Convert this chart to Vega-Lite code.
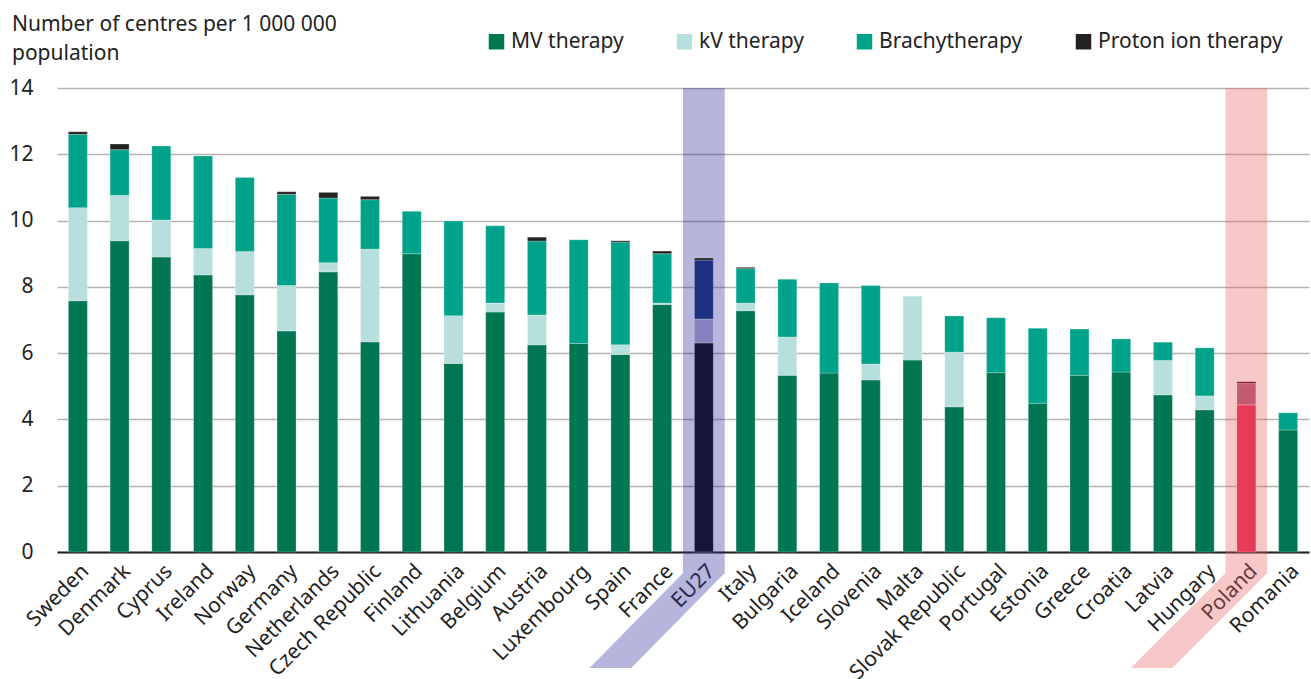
{
  "$schema": "https://vega.github.io/schema/vega-lite/v6.json",
  "width": 1252,
  "height": 464,
  "autosize": {"type": "none"},
  "padding": {"left": 57, "top": 88, "right": 2, "bottom": 127},
  "config": {
    "font": "Noto Sans",
    "view": {"stroke": null},
    "axis": {"labelFont": "Noto Sans", "labelColor": "#222222"}
  },
  "title": {
    "text": ["Number of centres per 1 000 000", "population"],
    "anchor": "start",
    "frame": "group",
    "dx": -45,
    "dy": 61,
    "fontSize": 21,
    "fontWeight": "normal",
    "color": "#222222",
    "lineHeight": 29.5,
    "offset": 28
  },
  "datasets": {
    "centres": [
      {"country": "Sweden", "series": "MV therapy", "value": 7.58},
      {"country": "Sweden", "series": "kV therapy", "value": 2.81},
      {"country": "Sweden", "series": "Brachytherapy", "value": 2.21},
      {"country": "Sweden", "series": "Proton ion therapy", "value": 0.08},
      {"country": "Denmark", "series": "MV therapy", "value": 9.39},
      {"country": "Denmark", "series": "kV therapy", "value": 1.37},
      {"country": "Denmark", "series": "Brachytherapy", "value": 1.38},
      {"country": "Denmark", "series": "Proton ion therapy", "value": 0.17},
      {"country": "Cyprus", "series": "MV therapy", "value": 8.9},
      {"country": "Cyprus", "series": "kV therapy", "value": 1.12},
      {"country": "Cyprus", "series": "Brachytherapy", "value": 2.23},
      {"country": "Ireland", "series": "MV therapy", "value": 8.36},
      {"country": "Ireland", "series": "kV therapy", "value": 0.8},
      {"country": "Ireland", "series": "Brachytherapy", "value": 2.79},
      {"country": "Norway", "series": "MV therapy", "value": 7.76},
      {"country": "Norway", "series": "kV therapy", "value": 1.31},
      {"country": "Norway", "series": "Brachytherapy", "value": 2.23},
      {"country": "Germany", "series": "MV therapy", "value": 6.67},
      {"country": "Germany", "series": "kV therapy", "value": 1.37},
      {"country": "Germany", "series": "Brachytherapy", "value": 2.75},
      {"country": "Germany", "series": "Proton ion therapy", "value": 0.08},
      {"country": "Netherlands", "series": "MV therapy", "value": 8.45},
      {"country": "Netherlands", "series": "kV therapy", "value": 0.28},
      {"country": "Netherlands", "series": "Brachytherapy", "value": 1.95},
      {"country": "Netherlands", "series": "Proton ion therapy", "value": 0.17},
      {"country": "Czech Republic", "series": "MV therapy", "value": 6.34},
      {"country": "Czech Republic", "series": "kV therapy", "value": 2.8},
      {"country": "Czech Republic", "series": "Brachytherapy", "value": 1.49},
      {"country": "Czech Republic", "series": "Proton ion therapy", "value": 0.1},
      {"country": "Finland", "series": "MV therapy", "value": 9.0},
      {"country": "Finland", "series": "Brachytherapy", "value": 1.28},
      {"country": "Lithuania", "series": "MV therapy", "value": 5.69},
      {"country": "Lithuania", "series": "kV therapy", "value": 1.44},
      {"country": "Lithuania", "series": "Brachytherapy", "value": 2.86},
      {"country": "Belgium", "series": "MV therapy", "value": 7.24},
      {"country": "Belgium", "series": "kV therapy", "value": 0.27},
      {"country": "Belgium", "series": "Brachytherapy", "value": 2.33},
      {"country": "Austria", "series": "MV therapy", "value": 6.25},
      {"country": "Austria", "series": "kV therapy", "value": 0.9},
      {"country": "Austria", "series": "Brachytherapy", "value": 2.23},
      {"country": "Austria", "series": "Proton ion therapy", "value": 0.12},
      {"country": "Luxembourg", "series": "MV therapy", "value": 6.29},
      {"country": "Luxembourg", "series": "Brachytherapy", "value": 3.13},
      {"country": "Spain", "series": "MV therapy", "value": 5.96},
      {"country": "Spain", "series": "kV therapy", "value": 0.29},
      {"country": "Spain", "series": "Brachytherapy", "value": 3.1},
      {"country": "Spain", "series": "Proton ion therapy", "value": 0.04},
      {"country": "France", "series": "MV therapy", "value": 7.47},
      {"country": "France", "series": "kV therapy", "value": 0.04},
      {"country": "France", "series": "Brachytherapy", "value": 1.49},
      {"country": "France", "series": "Proton ion therapy", "value": 0.08},
      {"country": "EU27", "series": "MV therapy", "value": 6.31},
      {"country": "EU27", "series": "kV therapy", "value": 0.72},
      {"country": "EU27", "series": "Brachytherapy", "value": 1.78},
      {"country": "EU27", "series": "Proton ion therapy", "value": 0.06},
      {"country": "Italy", "series": "MV therapy", "value": 7.28},
      {"country": "Italy", "series": "kV therapy", "value": 0.23},
      {"country": "Italy", "series": "Brachytherapy", "value": 1.04},
      {"country": "Italy", "series": "Proton ion therapy", "value": 0.04},
      {"country": "Bulgaria", "series": "MV therapy", "value": 5.33},
      {"country": "Bulgaria", "series": "kV therapy", "value": 1.16},
      {"country": "Bulgaria", "series": "Brachytherapy", "value": 1.74},
      {"country": "Iceland", "series": "MV therapy", "value": 5.4},
      {"country": "Iceland", "series": "Brachytherapy", "value": 2.72},
      {"country": "Slovenia", "series": "MV therapy", "value": 5.19},
      {"country": "Slovenia", "series": "kV therapy", "value": 0.48},
      {"country": "Slovenia", "series": "Brachytherapy", "value": 2.37},
      {"country": "Malta", "series": "MV therapy", "value": 5.79},
      {"country": "Malta", "series": "kV therapy", "value": 1.93},
      {"country": "Slovak Republic", "series": "MV therapy", "value": 4.38},
      {"country": "Slovak Republic", "series": "kV therapy", "value": 1.65},
      {"country": "Slovak Republic", "series": "Brachytherapy", "value": 1.09},
      {"country": "Portugal", "series": "MV therapy", "value": 5.41},
      {"country": "Portugal", "series": "Brachytherapy", "value": 1.66},
      {"country": "Estonia", "series": "MV therapy", "value": 4.49},
      {"country": "Estonia", "series": "Brachytherapy", "value": 2.26},
      {"country": "Greece", "series": "MV therapy", "value": 5.33},
      {"country": "Greece", "series": "Brachytherapy", "value": 1.4},
      {"country": "Croatia", "series": "MV therapy", "value": 5.43},
      {"country": "Croatia", "series": "Brachytherapy", "value": 1.0},
      {"country": "Latvia", "series": "MV therapy", "value": 4.74},
      {"country": "Latvia", "series": "kV therapy", "value": 1.04},
      {"country": "Latvia", "series": "Brachytherapy", "value": 0.55},
      {"country": "Hungary", "series": "MV therapy", "value": 4.29},
      {"country": "Hungary", "series": "kV therapy", "value": 0.42},
      {"country": "Hungary", "series": "Brachytherapy", "value": 1.45},
      {"country": "Poland", "series": "MV therapy", "value": 4.44},
      {"country": "Poland", "series": "Brachytherapy", "value": 0.64},
      {"country": "Poland", "series": "Proton ion therapy", "value": 0.06},
      {"country": "Romania", "series": "MV therapy", "value": 3.68},
      {"country": "Romania", "series": "Brachytherapy", "value": 0.52}
    ],
    "seriesOrder": [
      {"series": "MV therapy", "rank": 1},
      {"series": "kV therapy", "rank": 2},
      {"series": "Brachytherapy", "rank": 3},
      {"series": "Proton ion therapy", "rank": 4}
    ],
    "bands": [
      {"band": "EU27", "y": 14, "left": 15, "right": 16},
      {"band": "EU27", "y": -0.63, "left": 15, "right": 16},
      {"band": "EU27", "y": -3.5, "left": 12.76, "right": 13.76},
      {"band": "Poland", "y": 14, "left": 28, "right": 29},
      {"band": "Poland", "y": -0.63, "left": 28, "right": 29},
      {"band": "Poland", "y": -3.5, "left": 25.73, "right": 26.73}
    ]
  },
  "resolve": {"scale": {"x": "independent"}, "axis": {"x": "independent"}},
  "layer": [
    {
      "data": {"name": "bands"},
      "mark": {"type": "area", "orient": "horizontal", "opacity": 0.35, "clip": false, "interpolate": "linear"},
      "encoding": {
        "y": {"field": "y", "type": "quantitative", "scale": {"domain": [0, 14], "nice": false, "zero": false}, "axis": {"title": null, "values": [0, 2, 4, 6, 8, 10, 12, 14], "grid": true, "gridColor": "#b3b3b3", "gridWidth": 1.5, "domain": false, "ticks": false, "labelFontSize": 21, "labelPadding": 24, "labelColor": "#222222"}},
        "x": {"field": "left", "type": "quantitative", "scale": {"domain": [0, 30], "nice": false, "zero": false}, "axis": null},
        "x2": {"field": "right"},
        "detail": {"field": "band", "type": "nominal"},
        "fill": {"field": "band", "type": "nominal", "scale": {"domain": ["EU27", "Poland"], "range": ["#2e2e9e", "#e86262"]}, "legend": null}
      }
    },
    {
      "data": {"name": "centres"},
      "transform": [
        {"lookup": "series", "from": {"data": {"name": "seriesOrder"}, "key": "series", "fields": ["rank"]}}
      ],
      "mark": {"type": "bar", "stroke": "#ffffff", "strokeWidth": 0.7, "strokeOpacity": 0.35},
      "encoding": {
        "x": {
          "field": "country",
          "type": "nominal",
          "sort": null,
          "scale": {"paddingInner": 0.545, "paddingOuter": 0.2725},
          "axis": {"title": null, "labelAngle": -45, "labelFontSize": 21, "labelPadding": 8, "labelLimit": 300, "ticks": false, "domain": true, "domainColor": "#222222", "domainWidth": 2, "labelColor": "#222222"}
        },
        "y": {"field": "value", "type": "quantitative", "stack": "zero", "scale": {"domain": [0, 14], "nice": false, "zero": false}, "axis": {"title": null, "values": [0, 2, 4, 6, 8, 10, 12, 14], "grid": true, "gridColor": "#b3b3b3", "gridWidth": 1.5, "domain": false, "ticks": false, "labelFontSize": 21, "labelPadding": 24, "labelColor": "#222222"}},
        "order": {"field": "rank", "type": "quantitative", "sort": "ascending"},
        "color": {
          "condition": [
            {"test": "datum.country === 'EU27' && datum.series === 'MV therapy'", "value": "#141638"},
            {"test": "datum.country === 'EU27' && datum.series === 'kV therapy'", "value": "#8580be"},
            {"test": "datum.country === 'EU27' && datum.series === 'Brachytherapy'", "value": "#1e3283"},
            {"test": "datum.country === 'EU27' && datum.series === 'Proton ion therapy'", "value": "#1a1a1a"},
            {"test": "datum.country === 'Poland' && datum.series === 'MV therapy'", "value": "#e83a55"},
            {"test": "datum.country === 'Poland' && datum.series === 'Brachytherapy'", "value": "#c45a6e"},
            {"test": "datum.country === 'Poland' && datum.series === 'Proton ion therapy'", "value": "#8b1a2a"}
          ],
          "field": "series",
          "type": "nominal",
          "scale": {"domain": ["MV therapy", "kV therapy", "Brachytherapy", "Proton ion therapy"], "range": ["#007653", "#b6dfdd", "#00a38a", "#222222"]},
          "legend": {
            "title": null,
            "orient": "none",
            "legendX": 429,
            "legendY": -57,
            "direction": "horizontal",
            "symbolType": "square",
            "symbolSize": 240,
            "symbolStrokeWidth": 0,
            "symbolOpacity": 1,
            "labelFontSize": 21,
            "labelColor": "#222222",
            "labelOffset": 4,
            "labelLimit": 300,
            "columnPadding": 50
          }
        }
      }
    }
  ]
}
